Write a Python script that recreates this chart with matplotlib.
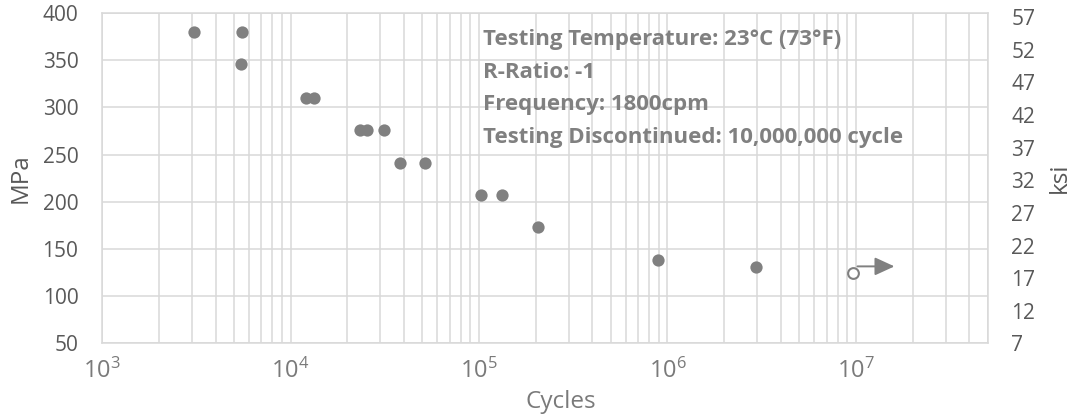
import numpy as np
import matplotlib
matplotlib.use("Agg")
import matplotlib.pyplot as plt
from matplotlib.ticker import FixedLocator, FuncFormatter, LogLocator, NullFormatter

plt.rcParams['font.family'] = ['Open Sans', 'DejaVu Sans']
plt.rcParams['mathtext.fontset'] = 'custom'
plt.rcParams['mathtext.rm'] = 'Open Sans'

# fatigue results (failures)
cycles = [3080, 5520, 5430, 12100, 13300, 23400, 25300, 31400,
          38000, 52000, 103000, 133000, 205000, 895000, 2950000]
stress_mpa = [380, 380, 346, 310, 310, 276, 276, 276,
              241, 241, 207, 207, 173, 138, 131]

# run-out (test discontinued)
runout_cycles = [9.7e6]
runout_mpa = [125]

mpa_ticks = [50, 100, 150, 200, 250, 300, 350, 400]
ksi_ticks = [7, 12, 17, 22, 27, 32, 37, 42, 47, 52, 57]

notes = ["Testing Temperature: 23°C (73°F)",
         "R-Ratio: -1",
         "Frequency: 1800cpm",
         "Testing Discontinued: 10,000,000 cycle"]

grey = '#808080'
tick_c = '#595959'
xtick_c = '#7a7a7a'
grid_c = '#d9d9d9'

fig = plt.figure(figsize=(10.73, 4.17), dpi=100)
ax = fig.add_axes([0.0951, 0.1767, 0.9205 - 0.0951, 0.969 - 0.1767])

ax.set_xscale('log')
ax.set_xlim(1e3, 5e7)
ax.set_ylim(50, 400)

ax.xaxis.set_major_locator(LogLocator(base=10, numticks=10))
ax.xaxis.set_minor_locator(LogLocator(base=10, subs=np.arange(2, 10), numticks=100))
ax.xaxis.set_minor_formatter(NullFormatter())
ax.xaxis.set_major_formatter(FuncFormatter(
    lambda v, p: r'$\mathregular{10^{%d}}$' % int(round(np.log10(v)))))
ax.yaxis.set_major_locator(FixedLocator(mpa_ticks))

ax.grid(True, which='both', axis='x', color=grid_c, lw=1.1)
ax.grid(True, which='major', axis='y', color=grid_c, lw=1.1)
ax.set_axisbelow(True)
for s in ax.spines.values():
    s.set_color(grid_c)
    s.set_linewidth(1.1)

ax.tick_params(which='both', length=0)
ax.tick_params(axis='x', colors=xtick_c, labelsize=17, pad=11)
ax.tick_params(axis='y', colors=tick_c, labelsize=15, pad=17)

ax.scatter(cycles, stress_mpa, s=78, color=grey, zorder=3, linewidths=0)
ax.scatter(runout_cycles, runout_mpa, s=60, facecolor='white',
           edgecolor=grey, linewidths=1.5, zorder=3)
for rx, ry in zip(runout_cycles, runout_mpa):
    ax.annotate('', xy=(rx * 1.65, ry + 6.5), xytext=(rx * 1.05, ry + 6.5),
                arrowprops=dict(arrowstyle='-|>,head_length=1.2,head_width=0.55',
                                color=grey, lw=1.4, shrinkA=0, shrinkB=0))

ax.set_xlabel('Cycles', fontsize=17.5, color=xtick_c)
ax.xaxis.set_label_coords(0.518, -0.14)
ax.set_ylabel('MPa', fontsize=17.5, color=tick_c)
ax.yaxis.set_label_coords(-0.078, 0.5)

for i, t in enumerate(notes):
    ax.text(482.7 / 1073, 1 - (45 + i * 32.5) / 417, t,
            transform=fig.transFigure, fontsize=16, fontweight='bold',
            color=grey, va='baseline', ha='left')

ax2 = ax.twinx()
ax2.set_ylim(7, 57.67)
ax2.yaxis.set_major_locator(FixedLocator(ksi_ticks))
ax2.tick_params(length=0, colors=tick_c, labelsize=15, pad=17)
for s in ax2.spines.values():
    s.set_visible(False)
ax2.set_ylabel('ksi', fontsize=17.5, color=tick_c)
ax2.yaxis.set_label_coords(1.068, 0.5)

fig.savefig('out.png', dpi=100)
